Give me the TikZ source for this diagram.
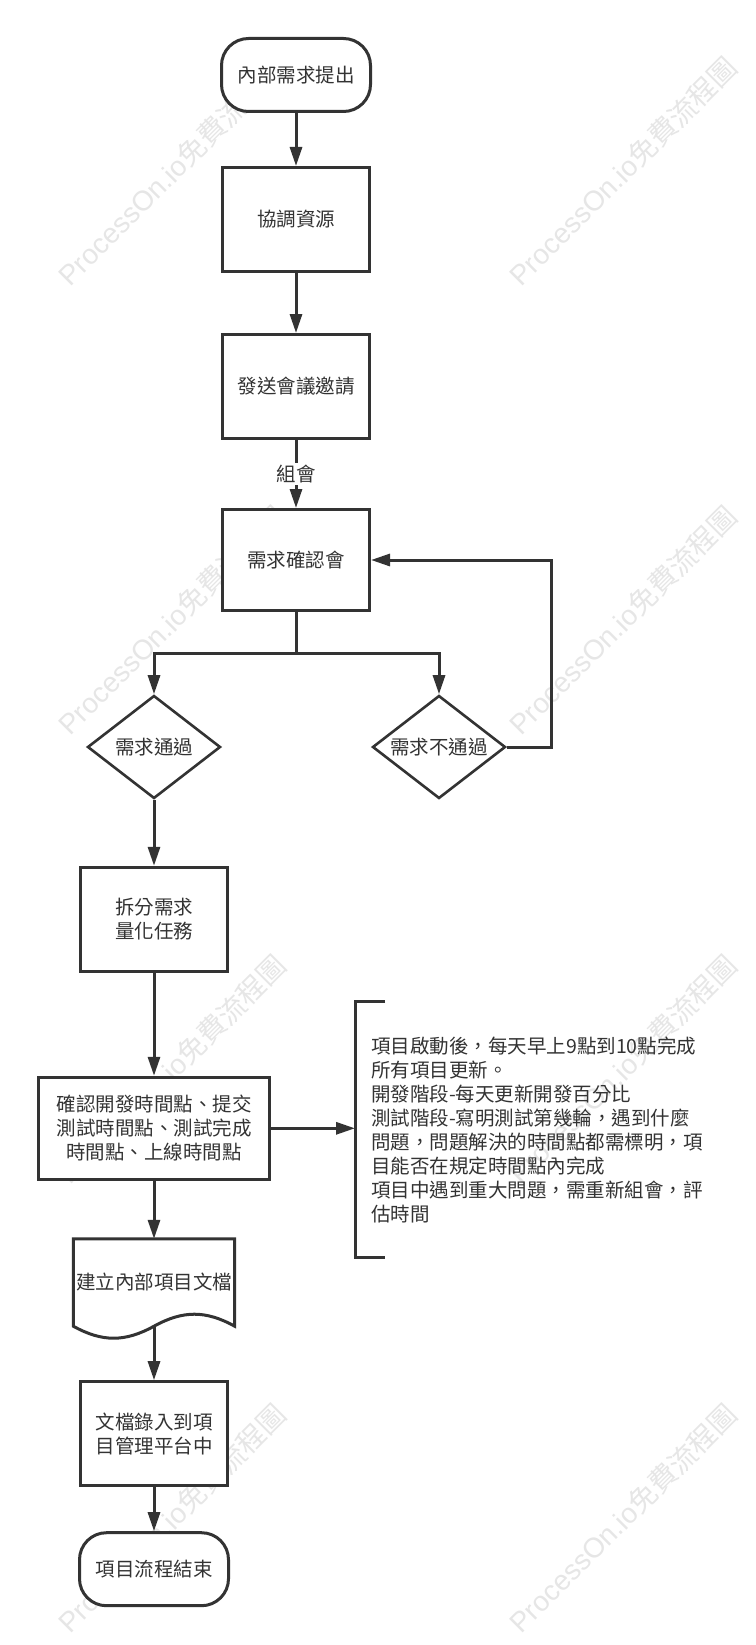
\documentclass[tikz,border=0pt]{standalone}
\usepackage{fontspec}
\setmainfont{Noto Sans CJK TC}
\newfontfamily\wmlatin{Liberation Sans}
\usepackage{xcolor}
\definecolor{linecolor}{HTML}{333333}
\definecolor{wmcolor}{HTML}{E6E6E6}
\usepackage{tikz}
\usetikzlibrary{positioning, calc, arrows.meta, shapes.geometric}

\begin{document}
\begin{tikzpicture}[
  x=1pt, y=1pt,
  every node/.style={font=\fontsize{19.5}{24}\selectfont, text=linecolor},
  terminal/.style={draw=linecolor, line width=3pt, fill=white, rounded corners=27pt,
    minimum width=149pt, minimum height=73pt},
  process/.style={draw=linecolor, line width=3pt, fill=white, align=center,
    minimum width=147pt, minimum height=104pt},
  decision/.style={draw=linecolor, line width=2.6pt, fill=white, diamond, aspect=1.28,
    inner sep=0pt, minimum width=133pt, minimum height=103pt},
  docbox/.style={inner sep=0pt, minimum width=161pt, minimum height=87pt},
  notebox/.style={anchor=west, align=left, inner xsep=16pt, minimum height=255pt},
  conn/.style={draw=linecolor, line width=3pt},
  flow/.style={conn, -{Triangle[length=19pt, width=12pt]}},
  watermark/.style={rotate=45, text=wmcolor, font=\fontsize{28}{28}\selectfont},
]

% 底色與邊界
\fill[white] (0,0) rectangle (755,-1645);
\useasboundingbox (0,0) rectangle (755,-1645);

% 水印
\foreach \row in {0,...,3}
  \foreach \col in {0,1}
    \node[watermark] (wm-\row-\col) at ({172+451*\col}, {-171-449*\row})
      {{\wmlatin ProcessOn.io}免費流程圖};

% 主流程
\node[terminal] (start) at (296,-75) {內部需求提出};
\node[process, below=53pt of start] (coord) {協調資源};
\node[process, below=60pt of coord] (invite) {發送會議邀請};
\node[process, minimum height=101pt, below=68pt of invite] (confirm) {需求確認會};

% 判斷
\node[decision] (pass) at (154,-747) {需求通過};
\node[decision] (fail) at (439,-747) {需求不通過};

\node[process, below=66pt of pass] (split) {拆分需求\\量化任務};
\node[process, minimum width=231pt, minimum height=102pt, below=103pt of split] (plan)
  {確認開發時間點、提交\\測試時間點、測試完成\\時間點、上線時間點};
\node[docbox, below=58pt of plan] (doc) {建立內部項目文檔};
\node[process, below=54pt of doc] (record) {文檔錄入到項\\目管理平台中};
\node[terminal, below=44pt of record] (finish) {項目流程結束};

% 說明
\node[notebox] (note) at (355,-1129.5)
  {項目啟動後，每天早上9點到10點完成\\所有項目更新。\\開發階段-每天更新開發百分比\\測試階段-寫明測試第幾輪，遇到什麼\\問題，問題解決的時間點都需標明，項\\目能否在規定時間點內完成\\項目中遇到重大問題，需重新組會，評\\估時間};
\draw[conn] ([xshift=30pt]note.north west) -- (note.north west)
  -- (note.south west) -- ([xshift=30pt]note.south west);

% 文檔外框
\draw[conn] (doc.south west) -- (doc.north west) -- (doc.north east) -- (doc.south east)
  .. controls +(-29,16) and +(29,16) .. (doc.south)
  .. controls +(-29,-16) and +(29,-16) .. (doc.south west) -- cycle;

% 連線
\draw[flow] (start) -- (coord);
\draw[flow] (coord) -- (invite);
\draw[flow] (invite) -- (confirm)
  node[midway, fill=white, inner xsep=1pt, inner ysep=2pt] (meet) {組會};
\draw[conn] (confirm.south) -- ++(0,-41) coordinate (fork);
\draw[flow] (fork) -| (pass.north);
\draw[flow] (fork) -| (fail.north);
\draw[flow] (fail.east) -- ++(45,0) |- (confirm.east);
\draw[flow] (pass) -- (split);
\draw[flow] (split) -- (plan);
\draw[flow] (plan.east) -- (plan.east -| note.west);
\draw[flow] (plan) -- (doc.north);
\draw[flow] (doc.south) -- (record);
\draw[flow] (record) -- (finish);

\end{tikzpicture}
\end{document}
